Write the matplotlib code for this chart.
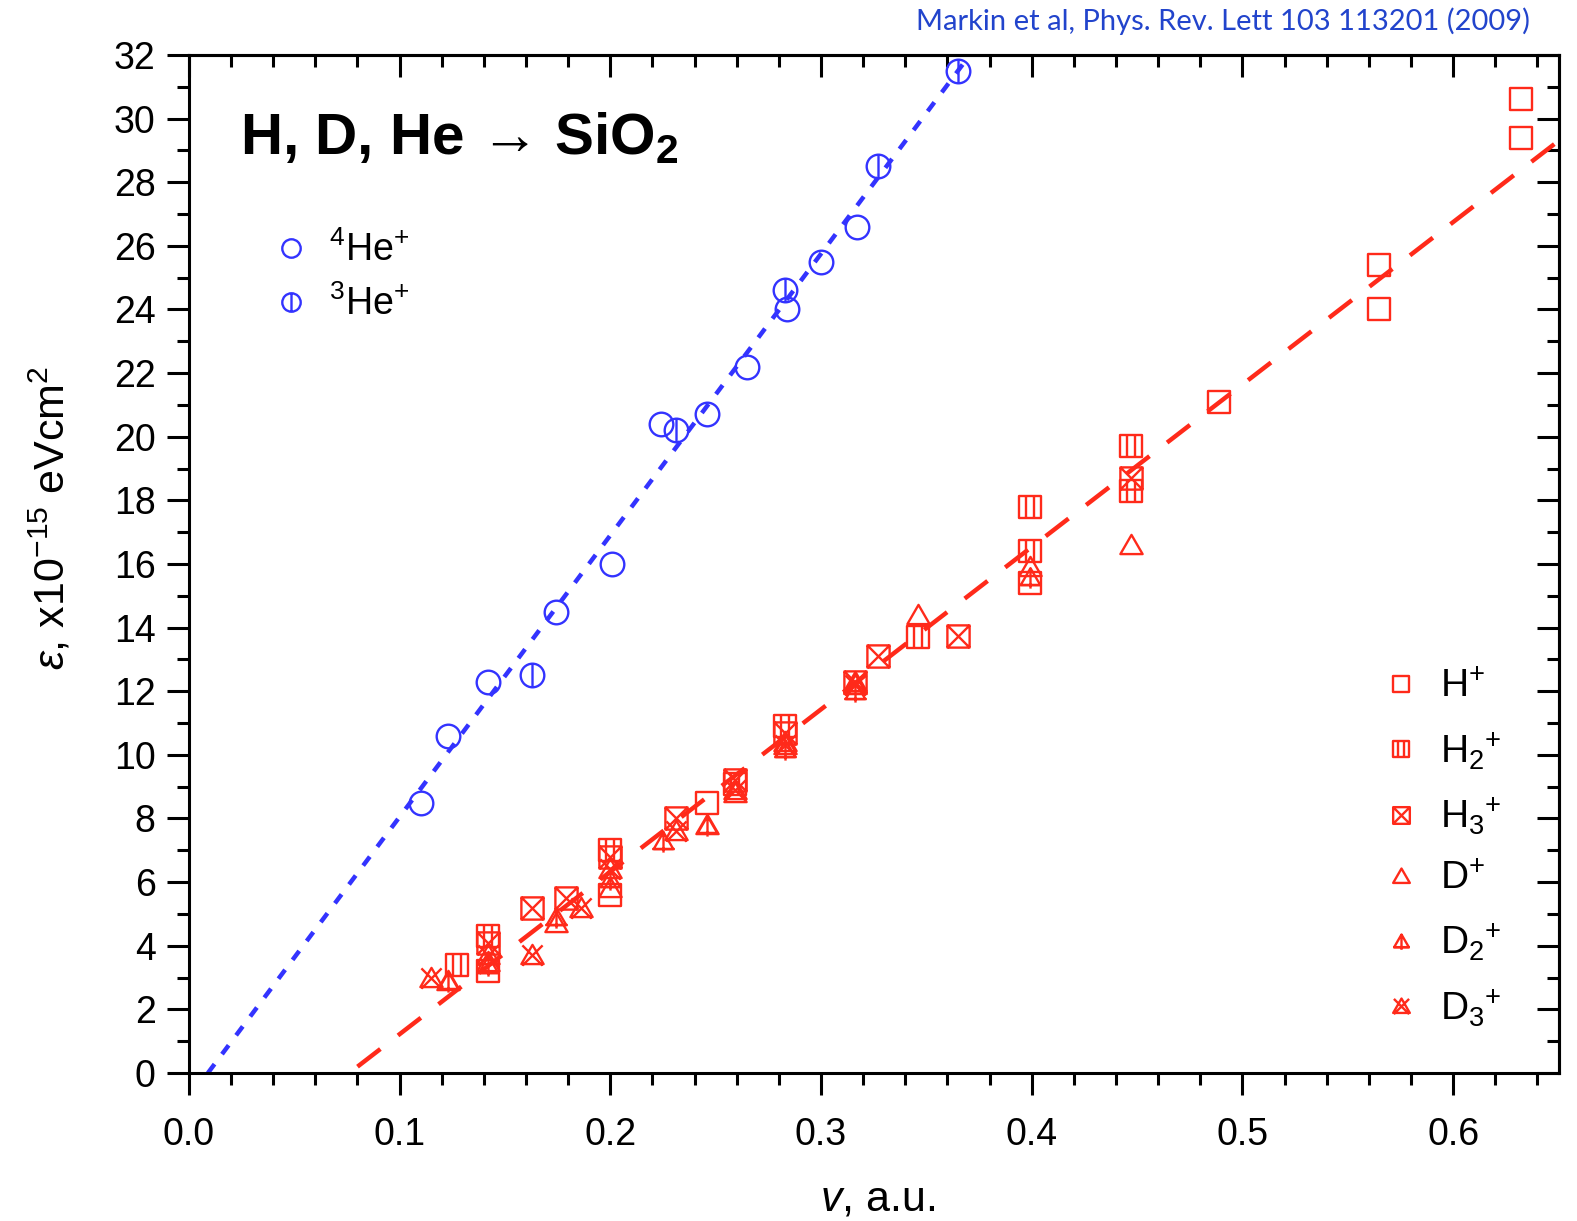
import matplotlib
matplotlib.use("Agg")
import matplotlib.pyplot as plt
import numpy as np
from matplotlib.path import Path
from matplotlib.ticker import MultipleLocator

plt.rcParams['font.family'] = ['Liberation Sans', 'DejaVu Sans']
plt.rcParams['mathtext.fontset'] = 'custom'
plt.rcParams['mathtext.rm'] = 'Liberation Sans'
plt.rcParams['mathtext.it'] = 'Liberation Sans:italic'
plt.rcParams['mathtext.bf'] = 'Liberation Sans:bold'

# data (v in a.u., stopping power in 1e-15 eVcm^2)
he4_v = [0.110, 0.123, 0.142, 0.174, 0.201, 0.224, 0.246, 0.265, 0.284, 0.300, 0.317]
he4_e = [8.5, 10.6, 12.3, 14.5, 16.0, 20.4, 20.7, 22.2, 24.0, 25.5, 26.6]
he3_v = [0.163, 0.231, 0.283, 0.327, 0.365]
he3_e = [12.5, 20.2, 24.6, 28.5, 31.5]

h1_v = [0.632, 0.632, 0.565, 0.565, 0.489, 0.399, 0.246, 0.200, 0.142]
h1_e = [30.6, 29.4, 25.4, 24.0, 21.1, 15.4, 8.5, 5.6, 3.2]
h2_v = [0.447, 0.447, 0.399, 0.399, 0.346, 0.283, 0.259, 0.200, 0.142, 0.127]
h2_e = [19.7, 18.3, 17.8, 16.4, 13.7, 10.9, 9.1, 7.0, 4.3, 3.4]
h3_v = [0.447, 0.365, 0.327, 0.316, 0.283, 0.259, 0.231, 0.200, 0.179, 0.163, 0.142]
h3_e = [18.7, 13.75, 13.1, 12.3, 10.7, 9.2, 8.0, 6.8, 5.5, 5.2, 4.1]
d1_v = [0.447, 0.399, 0.346, 0.316, 0.283, 0.259, 0.246, 0.200, 0.174, 0.142, 0.123]
d1_e = [16.6, 15.9, 14.4, 12.3, 10.4, 8.8, 7.8, 5.8, 4.7, 3.5, 2.9]
d2_v = [0.399, 0.316, 0.283, 0.246, 0.225, 0.200, 0.174, 0.142, 0.123]
d2_e = [15.6, 12.0, 10.2, 7.8, 7.3, 6.1, 4.9, 3.4, 2.9]
d3_v = [0.316, 0.283, 0.259, 0.231, 0.200, 0.186, 0.163, 0.142, 0.115]
d3_e = [12.2, 10.3, 8.9, 7.6, 6.4, 5.2, 3.7, 3.7, 3.0]

# fit lines (end points)
he_fit_v = [0.009, 0.3706]
he_fit_e = [0.0, 32.0]
h_fit_v = [0.080, 0.65]
h_fit_e = [0.2, 29.3]


# marker shapes
def lines_path(segs):
    verts, codes = [], []
    for a, b in segs:
        verts += [a, b]
        codes += [Path.MOVETO, Path.LINETO]
    return Path(verts, codes)


def poly(pts):
    return Path(pts + [pts[0]], [Path.MOVETO] + [Path.LINETO] * (len(pts) - 1) + [Path.CLOSEPOLY])


sq = [(-1, -1), (1, -1), (1, 1), (-1, 1)]
tri = [(-1.1, -0.85), (1.1, -0.85), (0, 1.05)]
circ = Path.unit_circle()

m_h1 = poly(sq)
m_h2 = Path.make_compound_path(poly(sq), lines_path([((-0.33, -1), (-0.33, 1)), ((0.33, -1), (0.33, 1))]))
m_h3 = Path.make_compound_path(poly(sq), lines_path([((-1, -1), (1, 1)), ((-1, 1), (1, -1))]))
m_d1 = poly(tri)
m_d2 = Path.make_compound_path(poly(tri), lines_path([((0, 1.05), (0, -1.25)), ((-1.25, -0.85), (1.25, -0.85))]))
m_d3 = Path.make_compound_path(poly(tri), lines_path([((-1.0, -1.0), (1.0, 1.0)), ((-1.0, 1.0), (1.0, -1.0))]))
m_he3 = Path.make_compound_path(circ, lines_path([((0, -1), (0, 1))]))

blue = '#3333ff'
red = '#ff2a1a'

fig = plt.figure(figsize=(15.77, 12.21), dpi=100)
ax = fig.add_axes([0.1198, 0.1212, 0.8685, 0.8338])

ax.plot(he_fit_v, he_fit_e, color=blue, lw=3.2, dashes=(2.5, 2.8))
ax.plot(h_fit_v, h_fit_e, color=red, lw=3.2, dashes=(6.5, 5.0))

mew = 1.7
he4, = ax.plot(he4_v, he4_e, ls='none', marker='o', ms=17, mfc='none', mec=blue, mew=mew)
he3, = ax.plot(he3_v, he3_e, ls='none', marker=m_he3, ms=17, mfc='none', mec=blue, mew=mew)

red_sets = [(h1_v, h1_e, m_h1, r'H$^{+}$'),
            (h2_v, h2_e, m_h2, r'H$_2$$^{+}$'),
            (h3_v, h3_e, m_h3, r'H$_3$$^{+}$'),
            (d1_v, d1_e, m_d1, r'D$^{+}$'),
            (d2_v, d2_e, m_d2, r'D$_2$$^{+}$'),
            (d3_v, d3_e, m_d3, r'D$_3$$^{+}$')]
red_handles = []
for v, e, m, lab in red_sets:
    h, = ax.plot(v, e, ls='none', marker=m, ms=16, mfc='none', mec=red, mew=mew, label=lab)
    red_handles.append(h)

ax.set_xlim(0, 0.65)
ax.set_ylim(0, 32)
ax.xaxis.set_major_locator(MultipleLocator(0.1))
ax.xaxis.set_minor_locator(MultipleLocator(0.02))
ax.yaxis.set_major_locator(MultipleLocator(2))
ax.yaxis.set_minor_locator(MultipleLocator(1))
ax.xaxis.set_major_formatter(matplotlib.ticker.FormatStrFormatter('%.1f'))
ax.tick_params(which='both', direction='out', width=2.2, labelsize=27, top=False, right=False)
ax.tick_params(axis='x', which='major', length=16, pad=16)
ax.tick_params(axis='y', which='major', length=16, pad=8)
ax.tick_params(which='minor', length=8.5)
for s in ax.spines.values():
    s.set_linewidth(2.2)

# ticks on top and right point into the plot
top = ax.secondary_xaxis('top')
top.xaxis.set_major_locator(MultipleLocator(0.1))
top.xaxis.set_minor_locator(MultipleLocator(0.02))
top.tick_params(which='both', direction='in', width=2.2, labeltop=False)
top.tick_params(which='major', length=16)
top.tick_params(which='minor', length=8.5)
top.spines['top'].set_linewidth(2.2)
right = ax.secondary_yaxis('right')
right.yaxis.set_major_locator(MultipleLocator(2))
right.yaxis.set_minor_locator(MultipleLocator(1))
right.tick_params(which='both', direction='in', width=2.2, labelright=False)
right.tick_params(which='major', length=16)
right.tick_params(which='minor', length=8.5)
right.spines['right'].set_linewidth(2.2)

ax.set_xlabel(r'$\it{v}$, a.u.', fontsize=31)
ax.xaxis.set_label_coords(0.503, -0.105)
ax.set_ylabel(r'$\it{\varepsilon}$, x10$^{-15}$ eVcm$^{2}$', fontsize=31)
ax.yaxis.set_label_coords(-0.084, 0.545)

ax.text(0.037, 0.945, 'H, D, He → SiO$_\\mathbf{2}$', transform=ax.transAxes,
        fontsize=42, fontweight='bold', va='top', ha='left')

leg1 = ax.legend([he4, he3], [r'$^{4}$He$^{+}$', r'$^{3}$He$^{+}$'], loc='upper left',
                 bbox_to_anchor=(0.039, 0.86), frameon=False, fontsize=27,
                 handlelength=0.8, handletextpad=0.6, labelspacing=0.45, markerscale=0.78)
ax.add_artist(leg1)
ax.legend(handles=red_handles, loc='lower left', bbox_to_anchor=(0.848, 0.009), frameon=False,
          fontsize=28, handlelength=0.8, handletextpad=0.6, labelspacing=0.62, markerscale=0.75)

fig.text(0.970, 0.983, 'Markin et al, Phys. Rev. Lett 103 113201 (2009)', color='#2244cc',
         fontsize=21, ha='right', va='center', family=['Lato', 'DejaVu Sans'])

fig.savefig('out.png', dpi=100)
